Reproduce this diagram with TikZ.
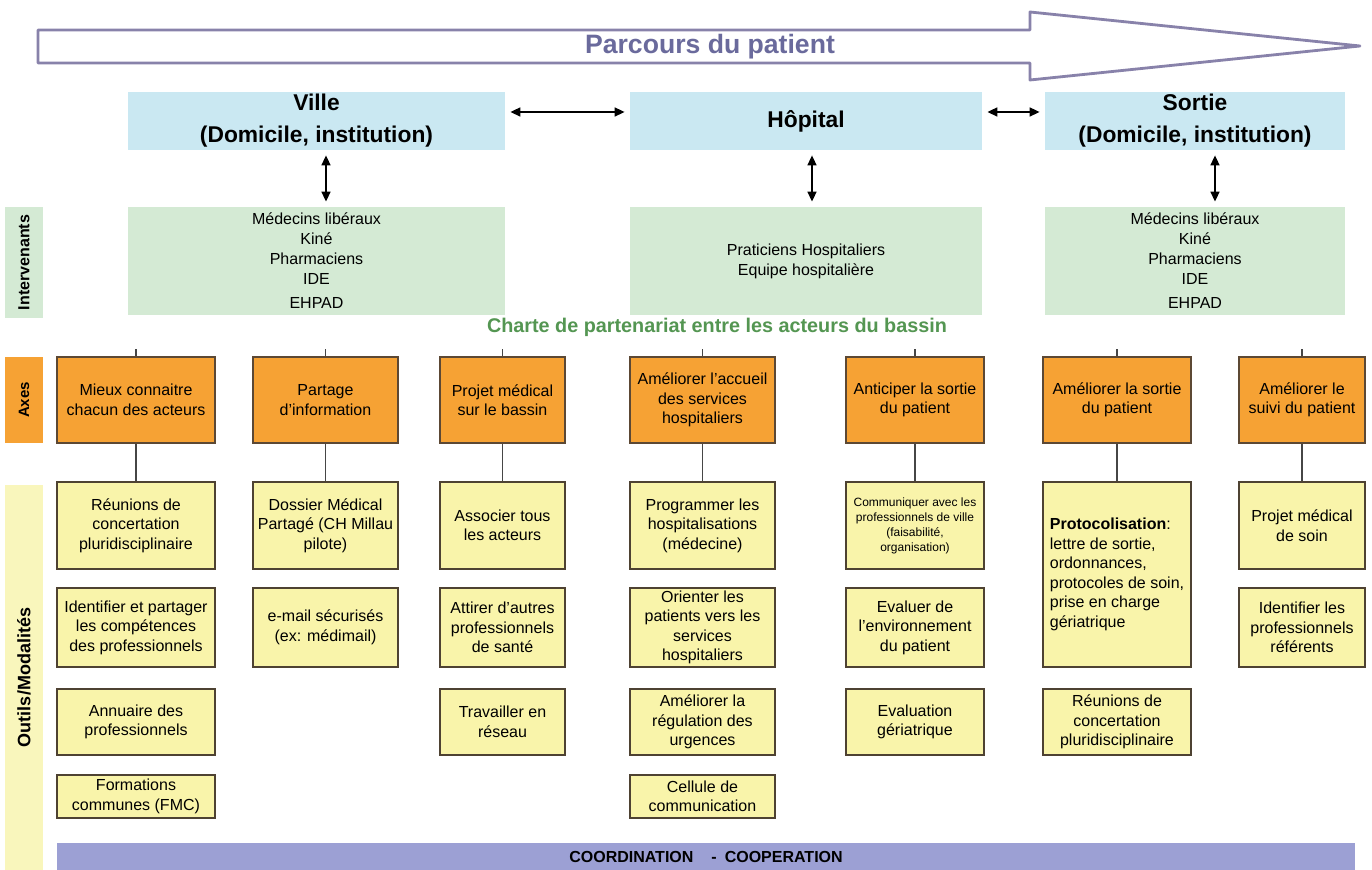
\documentclass[tikz,border=0pt]{standalone}
\usepackage{fontspec}
\setmainfont{Liberation Sans}
\usepackage{xcolor}
\usetikzlibrary{arrows.meta}

\definecolor{hdrblue}{RGB}{202,232,242}
\definecolor{intgreen}{RGB}{212,234,212}
\definecolor{axeorange}{RGB}{246,162,52}
\definecolor{axeedge}{RGB}{92,72,52}
\definecolor{toolyellow}{RGB}{249,244,170}
\definecolor{sideyellow}{RGB}{249,246,188}
\definecolor{tooledge}{RGB}{78,66,50}
\definecolor{barblue}{RGB}{156,160,212}
\definecolor{chartegreen}{RGB}{84,150,82}
\definecolor{arrowgray}{RGB}{136,130,170}
\definecolor{parcourstxt}{RGB}{106,106,156}
\definecolor{linkgray}{RGB}{70,70,70}

\begin{document}
\begin{tikzpicture}[x=0.5pt, y=-0.5pt,
  hdr/.style={fill=hdrblue, inner sep=0pt, minimum height=29pt, align=center,
    font=\fontsize{11.4}{15}\selectfont\bfseries},
  intv/.style={fill=intgreen, inner sep=0pt, minimum height=54pt, align=center,
    font=\fontsize{8}{10}\selectfont},
  sidelab/.style={rotate=90, inner sep=0pt, minimum height=19pt,
    font=\fontsize{8}{9}\selectfont\bfseries},
  axe/.style={fill=axeorange, draw=axeedge, line width=0.9pt, inner sep=1pt,
    minimum height=43pt, align=center, font=\fontsize{8}{9.75}\selectfont},
  tool/.style={fill=toolyellow, draw=tooledge, line width=0.9pt, inner sep=1pt,
    align=center, font=\fontsize{8}{9.75}\selectfont},
  dbl/.style={{Triangle[length=5pt,width=4.5pt]}-{Triangle[length=5pt,width=4.5pt]},
    line width=0.8pt, shorten >=2.5pt, shorten <=2.5pt},
  link/.style={draw=linkgray, line width=0.8pt}
]
  \fill[white] (0,0) rectangle (1372,870);
  \useasboundingbox (0,0) rectangle (1372,870);

  % Big arrow on top
  \draw[draw=arrowgray, line width=1.4pt, fill=white, line join=round]
    (38,30) -- (1030,30) -- (1030,12) -- (1360,46) -- (1030,80)
    -- (1030,63) -- (38,63) -- cycle;
  \node[font=\fontsize{13.3}{15}\selectfont\bfseries, text=parcourstxt]
    (parcours) at (710,47) {Parcours du patient};

  % Places of the patient
  \node[hdr, minimum width=188.5pt] (ville) at (316.5,121)
    {Ville\\[1pt](Domicile, institution)};
  \node[hdr, minimum width=176pt] (hopital) at (806,121) {Hôpital};
  \node[hdr, minimum width=150pt] (sortie) at (1195,121)
    {Sortie\\[1pt](Domicile, institution)};

  \draw[dbl] ([yshift=4.5pt]ville.east) -- ([yshift=4.5pt]hopital.west);
  \draw[dbl] ([yshift=4.5pt]hopital.east) -- ([yshift=4.5pt]sortie.west);

  % Intervenants
  \node[intv, minimum width=188.5pt] (villeI) at (316.5,261)
    {Médecins libéraux\\Kiné\\Pharmaciens\\IDE\\[2pt]EHPAD};
  \node[intv, minimum width=176pt] (hopitalI) at (806,261)
    {Praticiens Hospitaliers\\Equipe hospitalière};
  \node[intv, minimum width=150pt] (sortieI) at (1195,261)
    {Médecins libéraux\\Kiné\\Pharmaciens\\IDE\\[2pt]EHPAD};

  \draw[dbl] ([xshift=4.75pt]ville.south) -- ([xshift=4.75pt]villeI.north);
  \draw[dbl] ([xshift=3pt]hopital.south) -- ([xshift=3pt]hopitalI.north);
  \draw[dbl] ([xshift=10pt]sortie.south) -- ([xshift=10pt]sortieI.north);

  % Row labels on the left
  \node[sidelab, fill=intgreen, minimum width=55.5pt] (intervenants)
    at (24,262.5) {Intervenants};
  \node[sidelab, fill=axeorange, minimum width=43pt,
    font=\fontsize{7.5}{9}\selectfont\bfseries] (axes) at (24,400) {Axes};
  \node[sidelab, fill=sideyellow, minimum width=192.5pt,
    font=\fontsize{9}{10}\selectfont\bfseries] (outils)
    at (24,677.5) {Outils/Modalités};

  \node[font=\fontsize{9.9}{12}\selectfont\bfseries, text=chartegreen]
    (charte) at (717,327) {Charte de partenariat entre les acteurs du bassin};

  % Axes
  \node[axe, minimum width=79pt] (a1) at (136,400)
    {Mieux connaitre\\chacun des acteurs};
  \node[axe, minimum width=72.5pt] (a2) at (325.5,400)
    {Partage\\d'information};
  \node[axe, minimum width=62.5pt] (a3) at (502.5,400)
    {Projet médical\\sur le bassin};
  \node[axe, minimum width=72.5pt] (a4) at (702.5,400)
    {Améliorer l'accueil\\des services\\hospitaliers};
  \node[axe, minimum width=69pt] (a5) at (915,400)
    {Anticiper la sortie\\du patient};
  \node[axe, minimum width=74pt] (a6) at (1117,400)
    {Améliorer la sortie\\du patient};
  \node[axe, minimum width=63pt] (a7) at (1302,400)
    {Améliorer le\\suivi du patient};

  % Outils / modalites
  \node[tool, minimum width=79pt, minimum height=43.5pt] (t11) at (136,525.5)
    {Réunions de\\concertation\\pluridisciplinaire};
  \node[tool, minimum width=79pt, minimum height=39.5pt] (t12) at (136,627.5)
    {Identifier et partager\\les compétences\\des professionnels};
  \node[tool, minimum width=79pt, minimum height=33pt] (t13) at (136,722)
    {Annuaire des\\professionnels};
  \node[tool, minimum width=79pt, minimum height=21.5pt] (t14) at (136,796.5)
    {Formations\\communes (FMC)};

  \node[tool, minimum width=72.5pt, minimum height=43.5pt] (t21) at (325.5,525.5)
    {Dossier Médical\\Partagé (CH Millau\\pilote)};
  \node[tool, minimum width=72.5pt, minimum height=39.5pt] (t22) at (325.5,627.5)
    {e-mail sécurisés\\(ex: médimail)};

  \node[tool, minimum width=62.5pt, minimum height=43.5pt] (t31) at (502.5,525.5)
    {Associer tous\\les acteurs};
  \node[tool, minimum width=62.5pt, minimum height=39.5pt] (t32) at (502.5,627.5)
    {Attirer d'autres\\professionnels\\de santé};
  \node[tool, minimum width=62.5pt, minimum height=33pt] (t33) at (502.5,722)
    {Travailler en\\réseau};

  \node[tool, minimum width=72.5pt, minimum height=43.5pt] (t41) at (702.5,525.5)
    {Programmer les\\hospitalisations\\(médecine)};
  \node[tool, minimum width=72.5pt, minimum height=39.5pt] (t42) at (702.5,627.5)
    {Orienter les\\patients vers les\\services\\hospitaliers};
  \node[tool, minimum width=72.5pt, minimum height=33pt] (t43) at (702.5,722)
    {Améliorer la\\régulation des\\urgences};
  \node[tool, minimum width=72.5pt, minimum height=21.5pt] (t44) at (702.5,796.5)
    {Cellule de\\communication};

  \node[tool, minimum width=69pt, minimum height=43.5pt,
    font=\fontsize{6}{7.5}\selectfont] (t51) at (915,525.5)
    {Communiquer avec les\\professionnels de ville\\(faisabilité,\\organisation)};
  \node[tool, minimum width=69pt, minimum height=39.5pt] (t52) at (915,627.5)
    {Evaluer de\\l'environnement\\du patient};
  \node[tool, minimum width=69pt, minimum height=33pt] (t53) at (915,722)
    {Evaluation\\gériatrique};

  \node[tool, minimum width=74pt, minimum height=92.5pt, align=left] (t61)
    at (1117,574.5)
    {\textbf{Protocolisation}:\\lettre de sortie,\\ordonnances,\\protocoles de soin,\\prise en charge\\gériatrique};
  \node[tool, minimum width=74pt, minimum height=33pt] (t62) at (1117,722)
    {Réunions de\\concertation\\pluridisciplinaire};

  \node[tool, minimum width=63pt, minimum height=43.5pt] (t71) at (1302,525.5)
    {Projet médical\\de soin};
  \node[tool, minimum width=63pt, minimum height=39.5pt] (t72) at (1302,627.5)
    {Identifier les\\professionnels\\référents};

  % Links from axes to tools
  \foreach \a/\t in {a1/t11, a2/t21, a3/t31, a4/t41, a5/t51, a6/t61, a7/t71}
    \draw[link] (\a) -- (\t);
  \foreach \a in {a1, a2, a3, a4, a5, a6, a7}
    \draw[link] (\a.north) -- ++(0,-7);

  % Bottom band
  \node[fill=barblue, minimum width=649pt, minimum height=13.5pt, inner sep=0pt,
    font=\fontsize{8}{9}\selectfont\bfseries] (coord) at (706,856.5)
    {COORDINATION\hspace{9pt}-\hspace{4pt}COOPERATION};
\end{tikzpicture}
\end{document}
